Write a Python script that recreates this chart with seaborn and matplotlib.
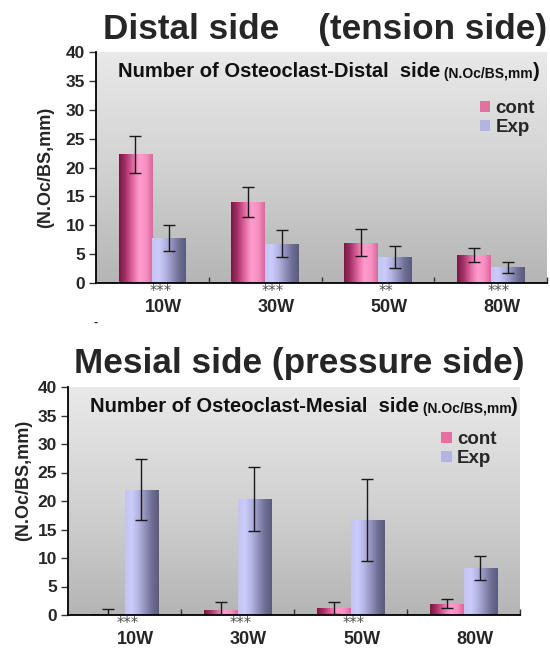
import numpy as np
import pandas as pd
import matplotlib
matplotlib.use('Agg')
import matplotlib.pyplot as plt
import seaborn as sns
from matplotlib.colors import LinearSegmentedColormap
from matplotlib.patches import Patch
from matplotlib.transforms import ScaledTranslation

sns.set_style('white')
plt.rcParams['font.family'] = ['Liberation Sans', 'DejaVu Sans']
plt.rcParams['font.weight'] = 'bold'

weeks = ['10W', '30W', '50W', '80W']
groups = ['cont', 'Exp']

# Distal side (tension side)
distal_cont = [22.3, 14.0, 7.0, 4.9]
distal_cont_err = [3.2, 2.6, 2.3, 1.2]
distal_exp = [7.8, 6.8, 4.5, 2.7]
distal_exp_err = [2.2, 2.3, 1.9, 1.0]
distal_stars = ['***', '***', '**', '***']

# Mesial side (pressure side)
mesial_cont = [0.1, 0.9, 1.2, 2.0]
mesial_cont_err = [1.0, 1.3, 1.0, 0.8]
mesial_exp = [22.0, 20.3, 16.6, 8.3]
mesial_exp_err = [5.3, 5.6, 7.2, 2.1]
mesial_stars = ['***', '***', '***', '']

pink = LinearSegmentedColormap.from_list('pink', ['#76183f', '#a8336a', '#e066a0', '#ff9ccc', '#f790c3', '#d8679e'])
blue = LinearSegmentedColormap.from_list('blue', ['#c4c4ee', '#cbcbfd', '#b4b4e2', '#9090bc', '#6e6e94', '#5a5a7c'])
bg = LinearSegmentedColormap.from_list('bg', ['#b5b5b5', '#d2d2d2', '#e9e9e9'])


def panel(ax, cont, cont_err, exp, exp_err, stars, title, star_dx, leg_anchor):
    df = pd.DataFrame({
        'week': weeks * 2,
        'group': [groups[0]] * 4 + [groups[1]] * 4,
        'value': cont + exp,
    })
    sns.barplot(data=df, x='week', y='value', hue='group', order=weeks,
                hue_order=groups, width=0.6, errorbar=None, legend=False, ax=ax)

    grad = np.linspace(0, 1, 256).reshape(1, -1)
    for cont_or_exp, cmap, errs in zip(ax.containers, [pink, blue], [cont_err, exp_err]):
        xs, ys = [], []
        for bar in cont_or_exp:
            x, w, h = bar.get_x(), bar.get_width(), bar.get_height()
            im = ax.imshow(grad, cmap=cmap, extent=[x, x + w, 0, h],
                           aspect='auto', zorder=2, interpolation='bilinear')
            im.set_clip_path(bar)
            bar.set_facecolor('none')
            bar.set_edgecolor('none')
            xs.append(x + w / 2)
            ys.append(h)
        ax.errorbar(xs, ys, yerr=errs, fmt='none', ecolor='#1a1a1a',
                    elinewidth=1.0, capsize=4.5, capthick=1.0, zorder=3)

    ax.imshow(np.linspace(0, 1, 256).reshape(-1, 1)[::-1], cmap=bg,
              extent=[0, 1, 0, 1], transform=ax.transAxes, aspect='auto', zorder=0)

    ax.set_xlim(-0.5, 3.5)
    ax.set_ylim(0, 40)
    ax.set_yticks(range(0, 41, 5))
    ax.set_xlabel('')
    ax.set_ylabel('(N.Oc/BS,mm)', fontsize=13, fontweight='bold')
    for s in ['top', 'right']:
        ax.spines[s].set_visible(False)
    for s in ['left', 'bottom']:
        ax.spines[s].set_color('black')
        ax.spines[s].set_linewidth(1.3)
    ax.tick_params(axis='y', direction='out', length=5, width=1, labelsize=12.5, pad=3,
                   left=True, color='#333')
    ax.tick_params(axis='x', which='major', length=0, labelsize=13, pad=11.5)
    ax.set_xticks([0.5, 1.5, 2.5, 3.5], minor=True)
    ax.tick_params(axis='x', which='minor', direction='in', length=4, width=1,
                   bottom=True, color='#333')
    fig = ax.figure
    for lab in ax.get_xticklabels():
        lab.set_fontweight('bold')
        lab.set_transform(lab.get_transform() + ScaledTranslation(11 / 100, 0, fig.dpi_scale_trans))
    for lab in ax.get_yticklabels():
        lab.set_fontweight('bold')

    for i, s in enumerate(stars):
        ax.annotate(s, xy=(i, 0), xycoords=('data', 'axes fraction'),
                    xytext=(star_dx, -1), textcoords='offset pixels',
                    ha='center', va='top', fontsize=10.5, color='#505050',
                    fontweight='normal', family='DejaVu Sans')

    t1 = ax.text(0.048, 0.875, title, transform=ax.transAxes, fontsize=14.5,
                 fontweight='bold', ha='left', va='bottom', color='#111', zorder=5)
    t2 = ax.annotate(' (N.Oc/BS,mm', xy=(1, 0), xycoords=t1, fontsize=10,
                     fontweight='bold', ha='left', va='bottom', color='#111', zorder=5)
    ax.annotate(')', xy=(1, 0), xycoords=t2, fontsize=14.5,
                fontweight='bold', ha='left', va='bottom', color='#111', zorder=5)

    handles = [Patch(facecolor='#e4709f', edgecolor='none', label='cont'),
               Patch(facecolor='#b4b4e2', edgecolor='none', label='Exp')]
    ax.legend(handles=handles, loc='upper right', bbox_to_anchor=leg_anchor,
              frameon=False, prop={'weight': 'bold', 'size': 13.5},
              handlelength=0.55, handleheight=0.5, handletextpad=0.3,
              labelspacing=0.12, borderaxespad=0)


fig = plt.figure(figsize=(5.5, 6.48), dpi=100)

ax1 = fig.add_axes([96 / 550, 1 - 283 / 648, 451 / 550, 231 / 648])
panel(ax1, distal_cont, distal_cont_err, distal_exp, distal_exp_err, distal_stars,
      'Number of Osteoclast-Distal  side', 8, (0.99, 0.825))
ax1.yaxis.set_label_coords(-0.093, 0.5)
fig.text(325 / 550, 1 - 30 / 648, 'Distal side    (tension side)', fontsize=25.3,
         fontweight='bold', ha='center', va='center')

ax2 = fig.add_axes([68 / 550, 1 - 615 / 648, 452 / 550, 228 / 648])
panel(ax2, mesial_cont, mesial_cont_err, mesial_exp, mesial_exp_err, mesial_stars,
      'Number of Osteoclast-Mesial  side', 3, (0.965, 0.84))
ax2.yaxis.set_label_coords(-0.08, 0.59)
fig.text(299 / 550, 1 - 363 / 648, 'Mesial side (pressure side)', fontsize=25.3,
         fontweight='bold', ha='center', va='center')

fig.text(96 / 550, 1 - 323 / 648, '-', fontsize=9, ha='center', va='center')

fig.savefig('out.png', dpi=100)
